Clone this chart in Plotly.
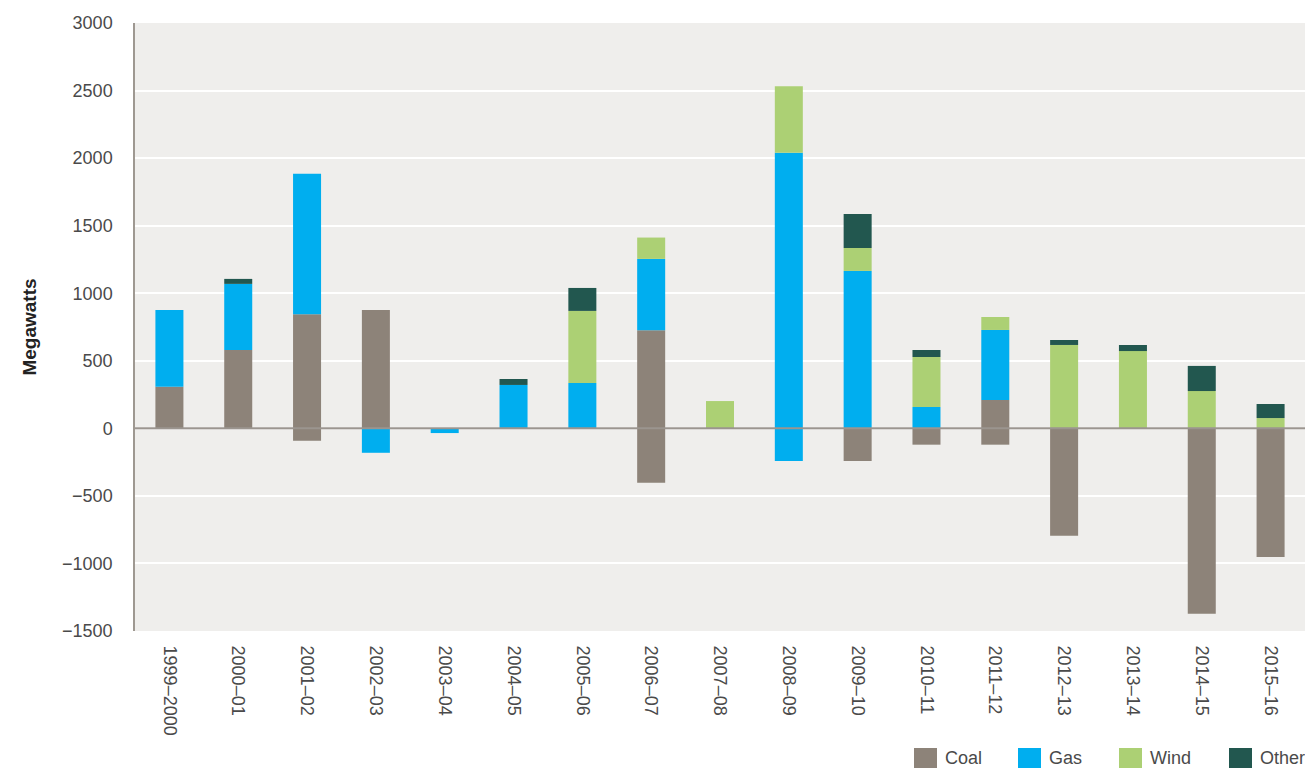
import plotly.graph_objects as go

categories = ['1999–2000', '2000–01', '2001–02', '2002–03', '2003–04', '2004–05',
              '2005–06', '2006–07', '2007–08', '2008–09', '2009–10', '2010–11',
              '2011–12', '2012–13', '2013–14', '2014–15', '2015–16']

coal_added = [308, 580, 844, 876, 0, 0, 0, 726, 0, 0, 0, 0, 210, 0, 0, 0, 0]
coal_withdrawn = [0, 0, -92, 0, 0, 0, 0, -403, 0, 0, -242, -121, -121, -795, 0, -1373, -953]
gas_added = [568, 489, 1040, 0, 0, 321, 336, 528, 0, 2039, 1165, 158, 518, 0, 0, 0, 0]
gas_withdrawn = [0, 0, 0, -181, -35, 0, 0, 0, 0, -242, 0, 0, 0, 0, 0, 0, 0]
wind_added = [0, 0, 0, 0, 0, 0, 533, 158, 202, 492, 170, 370, 96, 617, 572, 276, 76]
other_added = [0, 37, 0, 0, 0, 44, 170, 0, 0, 0, 252, 52, 0, 37, 45, 186, 104]

series_names = ['Coal', 'Gas', 'Wind', 'Other']
y_ticks = [-1500, -1000, -500, 0, 500, 1000, 1500, 2000, 2500, 3000]
y_title = 'Megawatts'

COLORS = {'Coal': '#8d8379', 'Gas': '#00aeef', 'Wind': '#acd074', 'Other': '#22574f'}
FONT = 'Liberation Sans'
TXT = '#4a4a4a'

W, H = 1305, 769
ML, MR, MT, MB = 135, 0, 23, 138
PW, PH = W - ML - MR, H - MT - MB

fig = go.Figure()
traces = [
    ('Coal', coal_added), ('Gas', gas_added), ('Wind', wind_added), ('Other', other_added),
    ('Coal', coal_withdrawn), ('Gas', gas_withdrawn),
]
for name, vals in traces:
    fig.add_trace(go.Bar(x=categories, y=vals, name=name, marker_color=COLORS[name],
                         marker_line_width=0, showlegend=False))

fig.update_layout(
    width=W, height=H, barmode='relative', bargap=0.593,
    margin=dict(l=ML, r=MR, t=MT, b=MB, pad=0),
    paper_bgcolor='white', plot_bgcolor='#efeeec',
    font=dict(family=FONT, size=18, color=TXT),
)
fig.update_xaxes(tickangle=90, showline=False, showgrid=False, zeroline=False,
                 ticks='outside', ticklen=10, tickcolor='rgba(0,0,0,0)',
                 tickfont=dict(family=FONT, size=18, color=TXT))
fig.update_yaxes(range=[-1500, 3000], tickvals=y_ticks, showgrid=True, gridcolor='white',
                 gridwidth=1.5, zeroline=False, showline=True, linecolor='#9e9891',
                 linewidth=1.5, ticks='outside', ticklen=17, tickcolor='rgba(0,0,0,0)',
                 tickfont=dict(family=FONT, size=18, color=TXT),
                 title=dict(text='<b>' + y_title + '</b>', standoff=20,
                            font=dict(family=FONT, size=19, color='#222222')))

# zero axis line drawn above bars
fig.add_shape(type='line', xref='paper', yref='y', x0=0, x1=1, y0=0, y1=0,
              line=dict(color='#9b958f', width=2), layer='above')

# custom legend with large square swatches
def px_x(px):
    return (px - ML) / PW

def px_y(py):
    return (H - MB - py) / PH

swatch_left = [914, 1018, 1119, 1229]
for name, sx in zip(series_names, swatch_left):
    fig.add_shape(type='rect', xref='paper', yref='paper',
                  x0=px_x(sx), x1=px_x(sx + 23), y0=px_y(748), y1=px_y(768),
                  fillcolor=COLORS[name], line_width=0)
    fig.add_annotation(xref='paper', yref='paper', x=px_x(sx + 29), y=px_y(758),
                       text=name, showarrow=False, xanchor='left', yanchor='middle',
                       font=dict(family=FONT, size=18, color=TXT))

fig.write_html('out.html', config={'displayModeBar': False},
               post_script="document.body.style.margin='0';document.body.style.overflow='hidden';")
